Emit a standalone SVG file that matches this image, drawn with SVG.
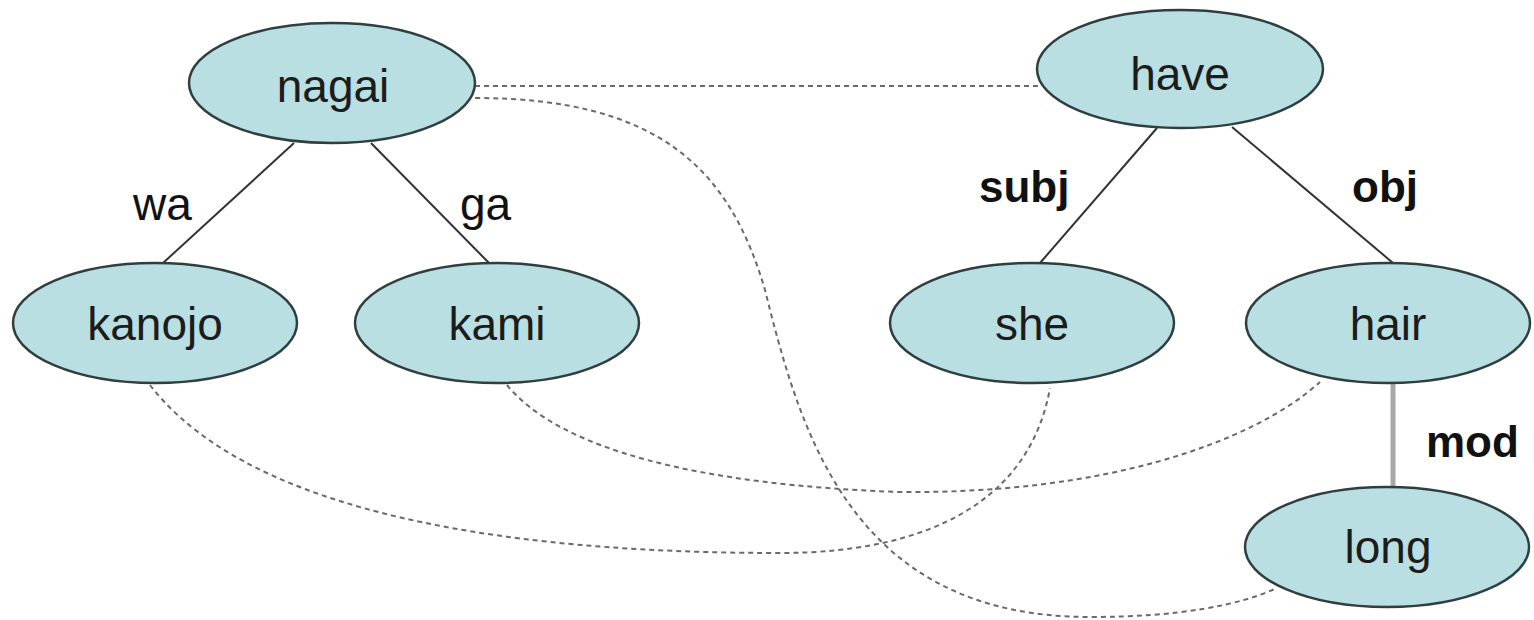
<svg xmlns="http://www.w3.org/2000/svg" width="1534" height="620" viewBox="0 0 1534 620">
<style>
.node ellipse{fill:#b9dfe2;stroke:#2f3f40;stroke-width:2.5}
.node text{font-family:"Liberation Sans",Arial,sans-serif;font-size:46px;fill:#1c1c1c;text-anchor:middle}
.lbl{font-family:"Liberation Sans",Arial,sans-serif;font-size:46px;fill:#111}
.b{font-weight:bold;font-size:44px}
.solid{stroke:#333;stroke-width:2;fill:none}
.thick{stroke:#a8a8a8;stroke-width:5;fill:none}
.dash{stroke:#6a6a6a;stroke-width:2;stroke-dasharray:5 4;fill:none}
</style>
<rect width="1534" height="620" fill="#fff"/>
<g id="connectors">
<line class="solid" x1="294" y1="143" x2="163" y2="263"/>
<line class="solid" x1="371" y1="143" x2="489" y2="263"/>
<line class="solid" x1="1157" y1="128" x2="1040" y2="263"/>
<line class="solid" x1="1232" y1="127" x2="1393" y2="263"/>
<line class="thick" x1="1393" y1="383" x2="1393" y2="487"/>
<line class="dash" x1="475" y1="86" x2="1038" y2="86"/>
<path class="dash" d="M475,98 C660,98 730,170 765,290 C800,430 850,617 1090,617 C1180,617 1240,605 1277,588"/>
<path class="dash" d="M150,385 C215,470 380,553 780,553 C930,553 1030,500 1050,388"/>
<path class="dash" d="M507,385 C560,450 700,485 900,492 C1100,494 1250,445 1320,382"/>
</g>
<g id="label-wa"><text class="lbl" x="133" y="220">wa</text></g>
<g id="label-ga"><text class="lbl" x="460" y="220">ga</text></g>
<g id="label-subj"><text class="lbl b" x="979" y="202">subj</text></g>
<g id="label-obj"><text class="lbl b" x="1352" y="202">obj</text></g>
<g id="label-mod"><text class="lbl b" x="1426" y="457">mod</text></g>
<g id="node-nagai" class="node"><ellipse cx="332" cy="83" rx="143" ry="60"/><text x="333" y="102">nagai</text></g>
<g id="node-have" class="node"><ellipse cx="1180" cy="69" rx="143" ry="59"/><text x="1180" y="90">have</text></g>
<g id="node-kanojo" class="node"><ellipse cx="155" cy="323" rx="142" ry="60"/><text x="155" y="340">kanojo</text></g>
<g id="node-kami" class="node"><ellipse cx="497" cy="323" rx="142" ry="60"/><text x="497" y="340">kami</text></g>
<g id="node-she" class="node"><ellipse cx="1032" cy="323" rx="142" ry="60"/><text x="1032" y="340">she</text></g>
<g id="node-hair" class="node"><ellipse cx="1388" cy="323" rx="142" ry="60"/><text x="1388" y="340">hair</text></g>
<g id="node-long" class="node"><ellipse cx="1387" cy="547" rx="142" ry="60"/><text x="1388" y="563">long</text></g>
</svg>
